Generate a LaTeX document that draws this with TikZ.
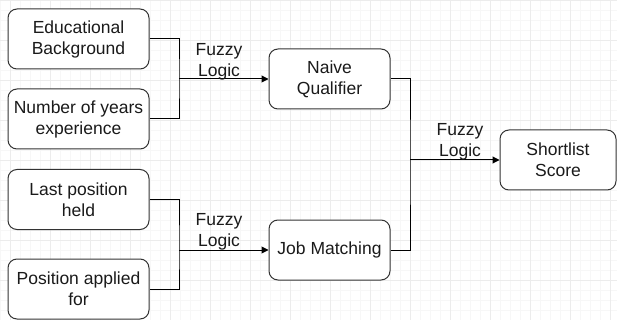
\documentclass[tikz,border=0pt]{standalone}
\usepackage{fontspec}
\setmainfont{Liberation Sans}
\usetikzlibrary{arrows.meta}
\definecolor{minorgrid}{HTML}{F7F7F7}
\definecolor{majorgrid}{HTML}{ECECEC}
\definecolor{boxline}{HTML}{333333}
\definecolor{txt}{HTML}{1A1A1A}
\tikzset{
  box/.style={draw=boxline, line width=1pt, rounded corners=9pt, fill=white,
    minimum width=141pt, minimum height=60pt, inner sep=0pt, align=center,
    font=\fontsize{17.5}{21}\selectfont, text=txt},
  smallbox/.style={box, minimum width=121pt},
  conn/.style={draw=black, line width=1pt},
  arr/.style={conn, -{Triangle[length=7pt,width=7pt]}},
  lbl/.style={align=center, font=\fontsize{17.5}{21}\selectfont, text=txt, inner sep=0pt},
}
\begin{document}
\begin{tikzpicture}[x=1pt,y=-1pt]
\useasboundingbox (0,0) rectangle (617,320);
\fill[white] (0,0) rectangle (617,320);
\foreach \i in {0,10,...,610} \draw[minorgrid, line width=0.8pt] (\i,0) -- (\i,320);
\foreach \j in {0,10,...,320} \draw[minorgrid, line width=0.8pt] (0,\j) -- (617,\j);
\foreach \i in {10,50,...,610} \draw[majorgrid, line width=0.9pt] (\i,0) -- (\i,320);
\foreach \j in {0,40,...,320} \draw[majorgrid, line width=0.9pt] (0,\j) -- (617,\j);

\node[box] (edu) at (78.5,39) {Educational\\Background};
\node[box] (exp) at (78.5,119) {Number of years\\experience};
\node[box] (last) at (78.5,199.5) {Last position\\held};
\node[box] (app) at (78.5,289) {Position applied\\for};
\node[smallbox] (nq) at (329.5,79) {Naive\\Qualifier};
\node[smallbox] (jm) at (329.5,250) {Job Matching};
\node[box, minimum width=116pt] (ss) at (558,160) {Shortlist\\Score};

\coordinate (b1) at (179,79);
\coordinate (b2) at (179,250);
\coordinate (b3) at (410,160);

\draw[conn] (edu.east) -| (b1) |- (exp.east);
\draw[arr] (b1) -- (nq.west);
\draw[conn] (last.east) -| (b2) |- (app.east);
\draw[arr] (b2) -- (jm.west);
\draw[conn] (nq.east) -| (b3) |- (jm.east);
\draw[arr] (b3) -- (ss.west);

\node[lbl] (l1) at (219,61.5) {Fuzzy\\Logic};
\node[lbl] (l2) at (219,231.5) {Fuzzy\\Logic};
\node[lbl] (l3) at (460,141.5) {Fuzzy\\Logic};
\end{tikzpicture}
\end{document}
